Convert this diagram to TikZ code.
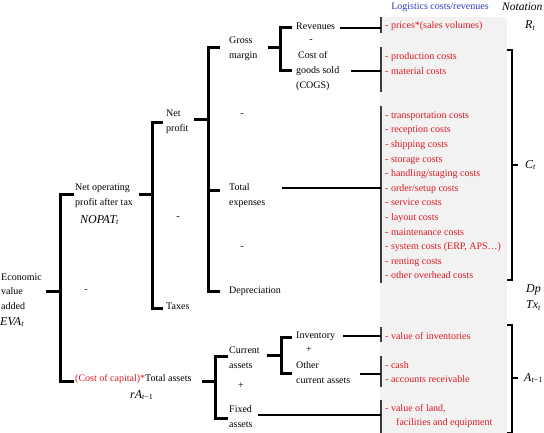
\documentclass[tikz,border=0pt]{standalone}
\usepackage{fontspec}
\setmainfont{Liberation Serif}
\definecolor{redtx}{RGB}{220,25,35}
\definecolor{bluetx}{RGB}{45,55,190}
\definecolor{greybg}{RGB}{242,242,242}
\definecolor{barcol}{RGB}{60,60,60}
\tikzset{
  txt/.style={font=\fontsize{10}{14.6}\selectfont, inner sep=0pt, anchor=west, align=left},
  rtxt/.style={txt, text=redtx},
  mtxt/.style={font=\fontsize{12}{14}\selectfont\itshape, inner sep=0pt, anchor=west},
  brk/.style={line width=3pt, line cap=rect},
  conn/.style={line width=2pt},
  gbar/.style={line width=2.2pt, draw=barcol},
  rbrk/.style={line width=1.2pt},
}
\begin{document}
\begin{tikzpicture}[x=1pt,y=-1pt]
\useasboundingbox (0,0) rectangle (544,433);
% grey background
\fill[greybg] (380,17) rectangle (507,433);
% headers
\node[txt, anchor=center, text=bluetx] (hdr) at (440,7) {Logistics costs/revenues};
\node[txt, font=\fontsize{11.5}{12}\selectfont\itshape] (nothdr) at (502,7) {Notation};

% grey bars
\coordinate (g1a) at (381,17);  \coordinate (g1b) at (381,33);
\coordinate (g2a) at (381,47);  \coordinate (g2b) at (381,92);
\coordinate (g3a) at (381,106); \coordinate (g3b) at (381,283);
\coordinate (g4a) at (381,327); \coordinate (g4b) at (381,342);
\coordinate (g5a) at (381,356); \coordinate (g5b) at (381,387);
\coordinate (g6a) at (381,400); \coordinate (g6b) at (381,433);
\foreach \i in {1,...,6} {\draw[gbar] (g\i a) -- (g\i b);}

% red texts
\node[rtxt] (prices) at (385,26) {- prices*(sales volumes)};
\node[rtxt] (prod) at (385,63.5) {- production costs\\- material costs};
\node[rtxt] (logc) at (385,195.3) {- transportation costs\\- reception costs\\- shipping costs\\- storage costs\\- handling/staging costs\\- order/setup costs\\- service costs\\- layout costs\\- maintenance costs\\- system costs (ERP, APS\ldots)\\- renting costs\\- other overhead costs};
\node[rtxt] (inv) at (385,336) {- value of inventories};
\node[rtxt] (cash) at (385,372) {- cash\\- accounts receivable};
\node[rtxt] (land) at (385,416) {- value of land,\\\hspace*{11pt}facilities and equipment};

% notation
\node[mtxt] (Rt) at (525,26) {R\textsubscript{\itshape t}};
\node[mtxt] (Ct) at (525,165) {C\textsubscript{\itshape t}};
\node[mtxt] (Dp) at (526,290) {Dp};
\node[mtxt] (Tx) at (526,306) {Tx\textsubscript{\itshape t}};
\node[mtxt] (At) at (524,378) {A\textsubscript{\itshape t\upshape −1}};

% right brackets
\coordinate (c1) at (507,50); \coordinate (c2) at (512,50);
\coordinate (c3) at (512,280); \coordinate (c4) at (507,280);
\coordinate (cm) at (512,165); \coordinate (cm2) at (518,165);
\draw[rbrk] (c1) -- (c2) -- (c3) -- (c4);
\draw[rbrk] (cm) -- (cm2);
\coordinate (a1) at (507,325); \coordinate (a2) at (512,325);
\coordinate (a3) at (512,432.4); \coordinate (a4) at (507,432.4);
\coordinate (am) at (512,378); \coordinate (am2) at (518,378);
\draw[rbrk] (a1) -- (a2) -- (a3) -- (a4);
\draw[rbrk] (am) -- (am2);

% left tree texts
\node[txt] (econ) at (1,291.5) {Economic\\value\\added};
\node[mtxt] (eva) at (0,322) {EVA\textsubscript{\itshape t}};
\node[txt] (nopat) at (75,195.5) {Net operating\\profit after tax};
\node[mtxt] (nopatm) at (80,220) {NOPAT\textsubscript{\itshape t}};
\node[txt, anchor=center] (m1) at (86,291) {-};
\node[txt] (netp) at (166,121.5) {Net\\profit};
\node[txt, anchor=center] (m2) at (178,218) {-};
\node[txt] (taxes) at (166,306) {Taxes};
\node[txt] (gross) at (229,48.5) {Gross\\margin};
\node[txt, anchor=center] (m3) at (242,115) {-};
\node[txt] (totexp) at (229,195.5) {Total\\expenses};
\node[txt, anchor=center] (m4) at (242,248) {-};
\node[txt] (deprec) at (229,291) {Depreciation};
\node[txt] (rev) at (296,26) {Revenues};
\node[txt, anchor=center] (m5) at (311,41) {-};
\node[txt] (cogs) at (296,71) {\hspace*{2pt}Cost of\\goods sold\\(COGS)};
\node[txt] (tassets) at (75,379) {\textcolor{redtx}{(Cost of capital)*}Total assets};
\node[mtxt] (rA) at (130,395) {rA\textsubscript{\itshape t\upshape −1}};
\node[txt] (curr) at (229,357.5) {Current\\assets};
\node[txt, anchor=center] (p1) at (241,386) {+};
\node[txt] (fixed) at (229,416.5) {Fixed\\assets};
\node[txt] (inventory) at (296,336) {Inventory};
\node[txt, anchor=center] (p2) at (309,350) {+};
\node[txt] (other) at (296,372.5) {Other\\current assets};

% brackets
% EVA
\coordinate (b1t) at (60,195); \coordinate (b1b) at (60,381);
\draw[brk] ([xshift=12pt]b1t) -- (b1t) -- (b1b) -- ([xshift=12pt]b1b);
\draw[brk] (47,291) -- (60,291);
% NOPAT
\coordinate (b2t) at (152,123); \coordinate (b2b) at (152,308);
\draw[brk] ([xshift=9pt]b2t) -- (b2t) -- (b2b) -- ([xshift=9pt]b2b);
\draw[brk] (140,195) -- (152,195);
% Net profit
\coordinate (b3t) at (208,48); \coordinate (b3b) at (208,291);
\draw[brk] ([xshift=10pt]b3t) -- (b3t) -- (b3b) -- ([xshift=10pt]b3b);
\draw[brk] (208,191) -- (218,191);
\draw[brk] (195,120) -- (208,120);
% Gross margin
\coordinate (b4t) at (280,28); \coordinate (b4b) at (280,71);
\draw[brk] ([xshift=10pt]b4t) -- (b4t) -- (b4b) -- ([xshift=10pt]b4b);
\draw[brk] (269,48) -- (280,48);
% Total assets
\coordinate (b5t) at (215,356); \coordinate (b5b) at (215,418);
\draw[brk] ([xshift=11pt]b5t) -- (b5t) -- (b5b) -- ([xshift=11pt]b5b);
\draw[brk] (203,381) -- (215,381);
% Current assets
\coordinate (b6t) at (281,337); \coordinate (b6b) at (281,373);
\draw[brk] ([xshift=9pt]b6t) -- (b6t) -- (b6b) -- ([xshift=9pt]b6b);
\draw[brk] (268,355) -- (281,355);

% connectors to logistics column
\draw[conn] (340,28) -- (g1a |- 0,28);
\draw[conn] (351,71) -- (g2a |- 0,71);
\draw[conn] (282,188) -- (g3a |- 0,188);
\draw[conn] (343,336) -- (g4a |- 0,336);
\draw[conn] (360,374) -- (g5a |- 0,374);
\draw[conn] (258,415) -- (g6a |- 0,415);
\end{tikzpicture}
\end{document}
